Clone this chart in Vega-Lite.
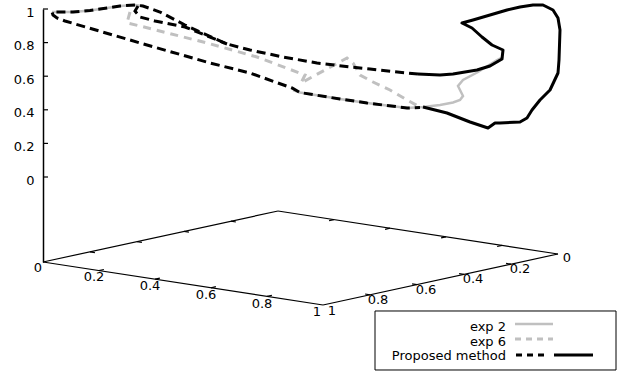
{
  "$schema": "https://vega.github.io/schema/vega-lite/v6.json",
  "width": 585,
  "height": 253,
  "autosize": "none",
  "padding": {"left": 43, "top": 9, "right": 0, "bottom": 112},
  "background": "white",
  "config": {"view": {"stroke": null}, "font": "DejaVu Sans"},
  "datasets": {
    "curves": [
      {"g": "e2a", "o": 1, "h": 0.09, "v": 0.9821},
      {"g": "e2a", "o": 2, "h": 0.30, "v": 0.9821},
      {"g": "e2a", "o": 3, "h": 0.47, "v": 0.9911},
      {"g": "e2a", "o": 4, "h": 0.64, "v": 1.0060},
      {"g": "e2a", "o": 5, "h": 0.77, "v": 1.0179},
      {"g": "e2a", "o": 6, "h": 0.92, "v": 1.0238},
      {"g": "e2a", "o": 7, "h": 1.00, "v": 1.0179},
      {"g": "e2b", "o": 1, "h": 2.50, "v": 0.5179},
      {"g": "e2b", "o": 2, "h": 2.57, "v": 0.5030},
      {"g": "e2b", "o": 3, "h": 2.97, "v": 0.4643},
      {"g": "e2b", "o": 4, "h": 3.24, "v": 0.4405},
      {"g": "e2b", "o": 5, "h": 3.64, "v": 0.4107},
      {"g": "e2b", "o": 6, "h": 3.80, "v": 0.4167},
      {"g": "e2b", "o": 7, "h": 3.97, "v": 0.4286},
      {"g": "e2b", "o": 8, "h": 4.10, "v": 0.4435},
      {"g": "e2b", "o": 9, "h": 4.17, "v": 0.4583},
      {"g": "e2b", "o": 10, "h": 4.20, "v": 0.4821},
      {"g": "e2b", "o": 11, "h": 4.17, "v": 0.5179},
      {"g": "e2b", "o": 12, "h": 4.15, "v": 0.5417},
      {"g": "e2b", "o": 13, "h": 4.20, "v": 0.5774},
      {"g": "e2b", "o": 14, "h": 4.35, "v": 0.6250},
      {"g": "e2b", "o": 15, "h": 4.54, "v": 0.6964},
      {"g": "e2b", "o": 16, "h": 4.60, "v": 0.7143},
      {"g": "e6", "o": 1, "h": 0.87, "v": 0.9821},
      {"g": "e6", "o": 2, "h": 0.84, "v": 0.9167},
      {"g": "e6", "o": 3, "h": 0.97, "v": 0.8988},
      {"g": "e6", "o": 4, "h": 1.64, "v": 0.7976},
      {"g": "e6", "o": 5, "h": 2.14, "v": 0.7143},
      {"g": "e6", "o": 6, "h": 2.62, "v": 0.6071},
      {"g": "e6", "o": 7, "h": 2.58, "v": 0.5595},
      {"g": "e6", "o": 8, "h": 2.82, "v": 0.6369},
      {"g": "e6", "o": 9, "h": 3.04, "v": 0.7083},
      {"g": "e6", "o": 10, "h": 3.10, "v": 0.6786},
      {"g": "e6", "o": 11, "h": 3.17, "v": 0.6071},
      {"g": "e6", "o": 12, "h": 3.30, "v": 0.5655},
      {"g": "e6", "o": 13, "h": 3.47, "v": 0.5179},
      {"g": "e6", "o": 14, "h": 3.64, "v": 0.4583},
      {"g": "e6", "o": 15, "h": 3.77, "v": 0.4167},
      {"g": "pa", "o": 1, "h": 3.75, "v": 0.6131},
      {"g": "pa", "o": 2, "h": 3.64, "v": 0.6190},
      {"g": "pa", "o": 3, "h": 3.27, "v": 0.6429},
      {"g": "pa", "o": 4, "h": 3.07, "v": 0.6548},
      {"g": "pa", "o": 5, "h": 2.74, "v": 0.6786},
      {"g": "pa", "o": 6, "h": 2.40, "v": 0.7143},
      {"g": "pa", "o": 7, "h": 2.07, "v": 0.7560},
      {"g": "pa", "o": 8, "h": 1.84, "v": 0.7917},
      {"g": "pa", "o": 9, "h": 1.57, "v": 0.8631},
      {"g": "pa", "o": 10, "h": 1.42, "v": 0.9048},
      {"g": "pa", "o": 11, "h": 1.17, "v": 0.9821},
      {"g": "pa", "o": 12, "h": 1.00, "v": 1.0179},
      {"g": "pa", "o": 13, "h": 0.92, "v": 1.0238},
      {"g": "pa", "o": 14, "h": 0.77, "v": 1.0179},
      {"g": "pa", "o": 15, "h": 0.64, "v": 1.0060},
      {"g": "pa", "o": 16, "h": 0.47, "v": 0.9911},
      {"g": "pa", "o": 17, "h": 0.30, "v": 0.9821},
      {"g": "pa", "o": 18, "h": 0.17, "v": 0.9821},
      {"g": "pa", "o": 19, "h": 0.09, "v": 0.9821},
      {"g": "pa", "o": 20, "h": 0.10, "v": 0.9643},
      {"g": "pa", "o": 21, "h": 0.14, "v": 0.9464},
      {"g": "pa", "o": 22, "h": 0.22, "v": 0.9286},
      {"g": "pa", "o": 23, "h": 1.04, "v": 0.7857},
      {"g": "pa", "o": 24, "h": 1.67, "v": 0.6786},
      {"g": "pa", "o": 25, "h": 2.07, "v": 0.6190},
      {"g": "pa", "o": 26, "h": 2.49, "v": 0.5298},
      {"g": "pa", "o": 27, "h": 2.57, "v": 0.5030},
      {"g": "pa", "o": 28, "h": 2.97, "v": 0.4643},
      {"g": "pa", "o": 29, "h": 3.24, "v": 0.4405},
      {"g": "pa", "o": 30, "h": 3.64, "v": 0.4107},
      {"g": "pa", "o": 31, "h": 3.77, "v": 0.4137},
      {"g": "pb", "o": 1, "h": 0.95, "v": 1.0179},
      {"g": "pb", "o": 2, "h": 0.92, "v": 0.9881},
      {"g": "pb", "o": 3, "h": 0.97, "v": 0.9524},
      {"g": "pb", "o": 4, "h": 1.12, "v": 0.9286},
      {"g": "pb", "o": 5, "h": 1.42, "v": 0.8929},
      {"g": "pb", "o": 6, "h": 1.84, "v": 0.7917},
      {"g": "ps", "o": 1, "h": 3.75, "v": 0.6131},
      {"g": "ps", "o": 2, "h": 3.97, "v": 0.6071},
      {"g": "ps", "o": 3, "h": 4.10, "v": 0.6131},
      {"g": "ps", "o": 4, "h": 4.34, "v": 0.6369},
      {"g": "ps", "o": 5, "h": 4.47, "v": 0.6607},
      {"g": "ps", "o": 6, "h": 4.59, "v": 0.7024},
      {"g": "ps", "o": 7, "h": 4.60, "v": 0.7560},
      {"g": "ps", "o": 8, "h": 4.49, "v": 0.7857},
      {"g": "ps", "o": 9, "h": 4.39, "v": 0.8333},
      {"g": "ps", "o": 10, "h": 4.29, "v": 0.8869},
      {"g": "ps", "o": 11, "h": 4.19, "v": 0.9167},
      {"g": "ps", "o": 12, "h": 4.30, "v": 0.9345},
      {"g": "ps", "o": 13, "h": 4.47, "v": 0.9643},
      {"g": "ps", "o": 14, "h": 4.64, "v": 0.9940},
      {"g": "ps", "o": 15, "h": 4.77, "v": 1.0119},
      {"g": "ps", "o": 16, "h": 4.90, "v": 1.0238},
      {"g": "ps", "o": 17, "h": 5.00, "v": 1.0238},
      {"g": "ps", "o": 18, "h": 5.10, "v": 0.9940},
      {"g": "ps", "o": 19, "h": 5.15, "v": 0.9464},
      {"g": "ps", "o": 20, "h": 5.17, "v": 0.8750},
      {"g": "ps", "o": 21, "h": 5.16, "v": 0.6964},
      {"g": "ps", "o": 22, "h": 5.15, "v": 0.6190},
      {"g": "ps", "o": 23, "h": 5.07, "v": 0.5179},
      {"g": "ps", "o": 24, "h": 4.97, "v": 0.4583},
      {"g": "ps", "o": 25, "h": 4.89, "v": 0.3988},
      {"g": "ps", "o": 26, "h": 4.84, "v": 0.3512},
      {"g": "ps", "o": 27, "h": 4.77, "v": 0.3274},
      {"g": "ps", "o": 28, "h": 4.57, "v": 0.3214},
      {"g": "ps", "o": 29, "h": 4.52, "v": 0.3214},
      {"g": "ps", "o": 30, "h": 4.45, "v": 0.2917},
      {"g": "ps", "o": 31, "h": 4.27, "v": 0.3274},
      {"g": "ps", "o": 32, "h": 4.04, "v": 0.3810},
      {"g": "ps", "o": 33, "h": 3.80, "v": 0.4167}
    ],
    "edges": [
      {"kind": "base", "h": 0, "v": -0.5060, "h2": 2.80, "v2": -0.7619},
      {"kind": "base", "h": 2.80, "v": -0.7619, "h2": 5.15, "v2": -0.4583},
      {"kind": "base", "h": 5.15, "v": -0.4583, "h2": 2.35, "v2": -0.2024},
      {"kind": "base", "h": 2.35, "v": -0.2024, "h2": 0, "v2": -0.5060},
      {"kind": "tick", "h": 0.56, "v": -0.5571, "h2": 0.609, "v2": -0.5506},
      {"kind": "tick", "h": 1.12, "v": -0.6083, "h2": 1.169, "v2": -0.6018},
      {"kind": "tick", "h": 1.68, "v": -0.6595, "h2": 1.729, "v2": -0.6530},
      {"kind": "tick", "h": 2.24, "v": -0.7107, "h2": 2.289, "v2": -0.7042},
      {"kind": "tick", "h": 2.91, "v": -0.2536, "h2": 2.861, "v2": -0.2601},
      {"kind": "tick", "h": 3.47, "v": -0.3048, "h2": 3.421, "v2": -0.3113},
      {"kind": "tick", "h": 4.03, "v": -0.3560, "h2": 3.981, "v2": -0.3625},
      {"kind": "tick", "h": 4.59, "v": -0.4071, "h2": 4.541, "v2": -0.4137},
      {"kind": "tick", "h": 4.68, "v": -0.5190, "h2": 4.631, "v2": -0.5143},
      {"kind": "tick", "h": 4.21, "v": -0.5798, "h2": 4.161, "v2": -0.5750},
      {"kind": "tick", "h": 3.74, "v": -0.6405, "h2": 3.691, "v2": -0.6357},
      {"kind": "tick", "h": 3.27, "v": -0.7012, "h2": 3.221, "v2": -0.6964},
      {"kind": "tick", "h": 1.88, "v": -0.2631, "h2": 1.929, "v2": -0.2679},
      {"kind": "tick", "h": 1.41, "v": -0.3238, "h2": 1.459, "v2": -0.3286},
      {"kind": "tick", "h": 0.94, "v": -0.3845, "h2": 0.989, "v2": -0.3893},
      {"kind": "tick", "h": 0.47, "v": -0.4452, "h2": 0.519, "v2": -0.4500},
      {"kind": "ztick", "h": 0, "v": 0, "h2": 0.05, "v2": 0},
      {"kind": "ztick", "h": 0, "v": 0.2, "h2": 0.05, "v2": 0.2},
      {"kind": "ztick", "h": 0, "v": 0.4, "h2": 0.05, "v2": 0.4},
      {"kind": "ztick", "h": 0, "v": 0.6, "h2": 0.05, "v2": 0.6},
      {"kind": "ztick", "h": 0, "v": 0.8, "h2": 0.05, "v2": 0.8},
      {"kind": "ztick", "h": 0, "v": 1, "h2": 0.05, "v2": 1}
    ],
    "ticklabels": [
      {"label": "0", "h": -0.05, "v": -0.5417},
      {"label": "0.2", "h": 0.51, "v": -0.5952},
      {"label": "0.4", "h": 1.07, "v": -0.6488},
      {"label": "0.6", "h": 1.63, "v": -0.7024},
      {"label": "0.8", "h": 2.19, "v": -0.7530},
      {"label": "1", "h": 2.74, "v": -0.8036},
      {"label": "0", "h": 5.24, "v": -0.4821},
      {"label": "0.2", "h": 4.77, "v": -0.5476},
      {"label": "0.4", "h": 4.30, "v": -0.6071},
      {"label": "0.6", "h": 3.83, "v": -0.6726},
      {"label": "0.8", "h": 3.35, "v": -0.7321},
      {"label": "1", "h": 2.89, "v": -0.7976}
    ],
    "legendbox": [
      {"h": 3.32, "h2": 5.73, "v": -0.7976, "v2": -1.1488}
    ],
    "legendlines": [
      {"g": "exp 2", "h": 4.72, "h2": 5.10, "v": -0.875, "v2": -0.875},
      {"g": "exp 6", "h": 4.72, "h2": 5.10, "v": -0.9643, "v2": -0.9643},
      {"g": "Proposed method a", "h": 4.73, "h2": 5.05, "v": -1.0595, "v2": -1.0595},
      {"g": "Proposed method b", "h": 5.11, "h2": 5.50, "v": -1.0595, "v2": -1.0595}
    ],
    "legendtext": [
      {"label": "exp 2", "h": 4.63, "v": -0.8911},
      {"label": "exp 6", "h": 4.63, "v": -0.9792},
      {"label": "Proposed method", "h": 4.63, "v": -1.0673}
    ]
  },
  "encoding": {
    "x": {"field": "h", "type": "quantitative", "scale": {"domain": [0, 5.85], "nice": false, "zero": false}, "axis": null},
    "y": {"field": "v", "type": "quantitative", "scale": {"domain": [-0.50595, 1], "nice": false, "zero": false},
      "axis": {"values": [0, 0.2, 0.4, 0.6, 0.8, 1], "format": "~g", "title": null, "grid": false, "ticks": false,
        "domainColor": "#000000", "domainWidth": 1.5, "labelFont": "DejaVu Sans", "labelFontSize": 13,
        "labelColor": "#000000", "labelPadding": 9, "labelOffset": 3, "labelFlush": false, "labelOverlap": false}}
  },
  "layer": [
    {
      "data": {"name": "edges"},
      "transform": [{"filter": "datum.kind == 'base' || datum.kind == 'tick'"}],
      "mark": {"type": "rule", "color": "#000000", "strokeWidth": 1.2},
      "encoding": {"x2": {"field": "h2"}, "y2": {"field": "v2"}}
    },
    {
      "data": {"name": "edges"},
      "transform": [{"filter": "datum.kind == 'ztick'"}],
      "mark": {"type": "rule", "color": "#000000", "strokeWidth": 1.2},
      "encoding": {"x2": {"field": "h2"}, "y2": {"field": "v2"}}
    },
    {
      "data": {"name": "ticklabels"},
      "mark": {"type": "text", "font": "DejaVu Sans", "fontSize": 13, "color": "#000000", "align": "center", "baseline": "middle"},
      "encoding": {"text": {"field": "label"}}
    },
    {
      "data": {"name": "curves"},
      "transform": [{"filter": {"field": "g", "oneOf": ["e2a", "e2b"]}}],
      "mark": {"type": "line", "color": "#c0c0c0", "strokeWidth": 2.5},
      "encoding": {"detail": {"field": "g"}, "order": {"field": "o"}}
    },
    {
      "data": {"name": "curves"},
      "transform": [{"filter": {"field": "g", "oneOf": ["e6"]}}],
      "mark": {"type": "line", "color": "#c0c0c0", "strokeWidth": 3, "strokeDash": [8, 6]},
      "encoding": {"detail": {"field": "g"}, "order": {"field": "o"}}
    },
    {
      "data": {"name": "curves"},
      "transform": [{"filter": {"field": "g", "oneOf": ["pa", "pb"]}}],
      "mark": {"type": "line", "color": "#000000", "strokeWidth": 3, "strokeDash": [9, 5]},
      "encoding": {"detail": {"field": "g"}, "order": {"field": "o"}}
    },
    {
      "data": {"name": "curves"},
      "transform": [{"filter": {"field": "g", "oneOf": ["ps"]}}],
      "mark": {"type": "line", "color": "#000000", "strokeWidth": 3, "strokeJoin": "round"},
      "encoding": {"detail": {"field": "g"}, "order": {"field": "o"}}
    },
    {
      "data": {"name": "legendbox"},
      "mark": {"type": "rect", "fill": null, "fillOpacity": 0, "stroke": "#000000", "strokeWidth": 1},
      "encoding": {"x2": {"field": "h2"}, "y2": {"field": "v2"}}
    },
    {
      "data": {"name": "legendlines"},
      "transform": [{"filter": "datum.g == 'exp 2'"}],
      "mark": {"type": "rule", "color": "#c0c0c0", "strokeWidth": 2.5},
      "encoding": {"x2": {"field": "h2"}, "y2": {"field": "v2"}}
    },
    {
      "data": {"name": "legendlines"},
      "transform": [{"filter": "datum.g == 'exp 6'"}],
      "mark": {"type": "rule", "color": "#c0c0c0", "strokeWidth": 3, "strokeDash": [6, 5]},
      "encoding": {"x2": {"field": "h2"}, "y2": {"field": "v2"}}
    },
    {
      "data": {"name": "legendlines"},
      "transform": [{"filter": "datum.g == 'Proposed method a'"}],
      "mark": {"type": "rule", "color": "#000000", "strokeWidth": 3, "strokeDash": [6, 5]},
      "encoding": {"x2": {"field": "h2"}, "y2": {"field": "v2"}}
    },
    {
      "data": {"name": "legendlines"},
      "transform": [{"filter": "datum.g == 'Proposed method b'"}],
      "mark": {"type": "rule", "color": "#000000", "strokeWidth": 3},
      "encoding": {"x2": {"field": "h2"}, "y2": {"field": "v2"}}
    },
    {
      "data": {"name": "legendtext"},
      "mark": {"type": "text", "font": "DejaVu Sans", "fontSize": 13, "color": "#000000", "align": "right", "baseline": "middle"},
      "encoding": {"text": {"field": "label"}}
    }
  ]
}
